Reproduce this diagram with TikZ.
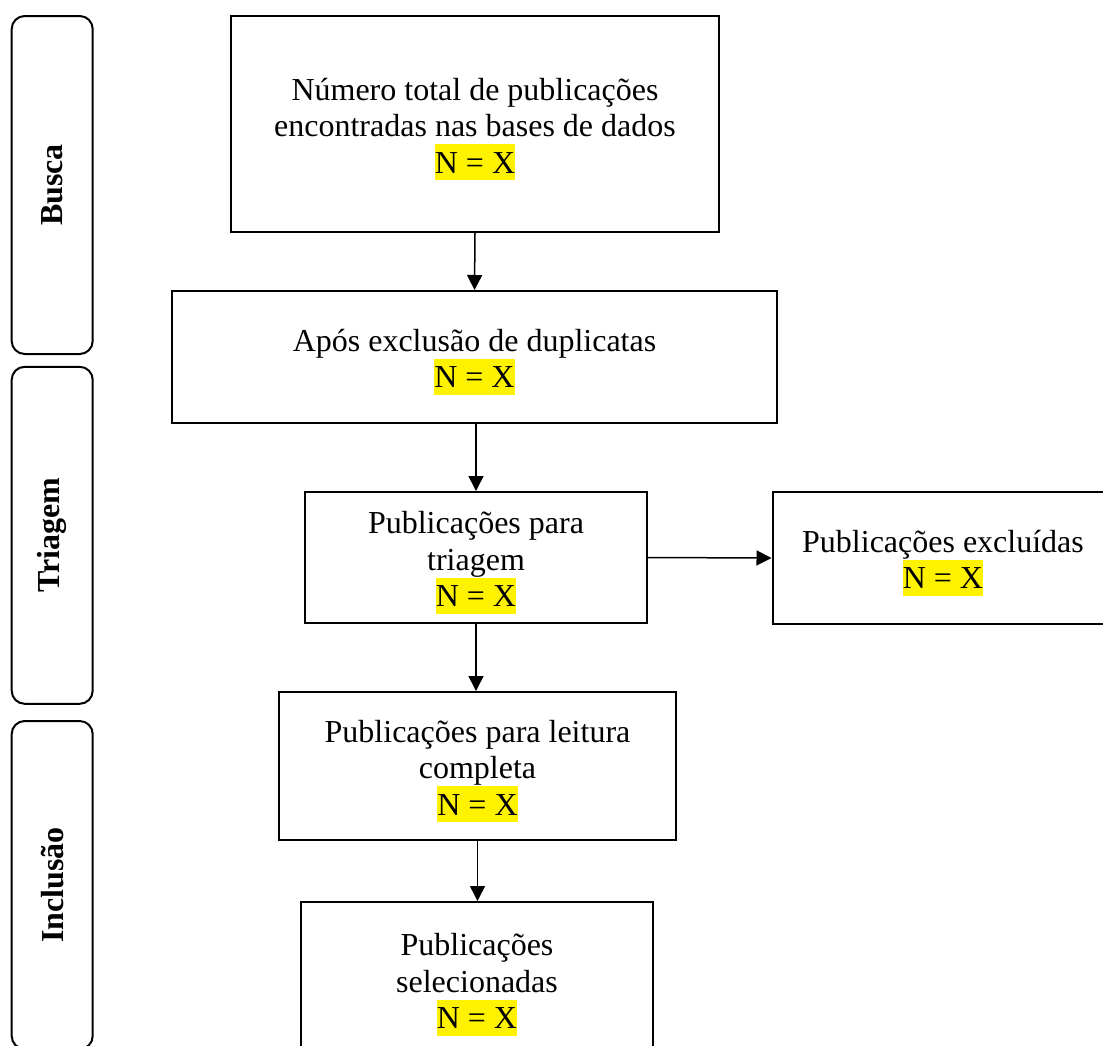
\documentclass[tikz,border=0pt]{standalone}
\usepackage{fontspec}
\setmainfont{Liberation Serif}
\usetikzlibrary{arrows.meta}
\newcommand{\nxmark}{{\setlength{\fboxsep}{0pt}\colorbox{yellow}{\rule[-7pt]{0pt}{36pt}N = X}}}
\newcommand{\topstrut}{\rule{0pt}{32pt}}
\begin{document}
\begin{tikzpicture}[x=1pt,y=-1pt,
  flowbox/.style={draw, line width=2pt, align=center, inner sep=0pt, font=\fontsize{32}{36.5}\selectfont},
  phasebox/.style={draw, line width=2pt, rounded corners=13pt, inner sep=0pt, align=center, font=\fontsize{32}{36.5}\selectfont\bfseries},
  flowarrow/.style={line width=1.5pt, -{Triangle[length=15pt,width=15pt]}}]
\useasboundingbox (0,0) rectangle (1103,1045);
\fill[white] (0,0) rectangle (1103,1045);

% phase labels
\node[phasebox, minimum width=338pt, minimum height=81pt, rotate=90] (busca) at (52.2,185) {Busca};
\node[phasebox, minimum width=337pt, minimum height=81pt, rotate=90] (triagem) at (52.2,535.3) {Triagem};
\node[phasebox, minimum width=328pt, minimum height=81pt, rotate=90] (inclusao) at (52.2,885) {Inclusão};

% flow boxes
\node[flowbox, minimum width=488pt, minimum height=216pt] (b1) at (475,124) {\topstrut Número total de publicações\\encontradas nas bases de dados\\\nxmark};
\node[flowbox, minimum width=605pt, minimum height=132pt] (b2) at (474.5,357) {\topstrut Após exclusão de duplicatas\\\nxmark};
\node[flowbox, minimum width=342pt, minimum height=131pt] (b3) at (476,557.5) {\topstrut Publicações para\\triagem\\\nxmark};
\node[flowbox, minimum width=341pt, minimum height=132pt] (b4) at (943,558) {\topstrut Publicações excluídas\\\nxmark};
\node[flowbox, minimum width=397pt, minimum height=148pt] (b5) at (477.5,766) {\topstrut Publicações para leitura\\completa\\\nxmark};
\node[flowbox, minimum width=352pt, minimum height=155pt] (b6) at (477,979.5) {\topstrut Publicações\\selecionadas\\\nxmark};

% connectors
\draw[flowarrow] (b1.south) -- (b2.north);
\draw[flowarrow] (b3.north |- b2.south) -- (b3.north);
\draw[flowarrow] (b3.east) -- (b4.west);
\draw[flowarrow] (b3.south) -- (b3.south |- b5.north);
\draw[flowarrow] (b5.south) -- (b5.south |- b6.north);
\end{tikzpicture}
\end{document}
